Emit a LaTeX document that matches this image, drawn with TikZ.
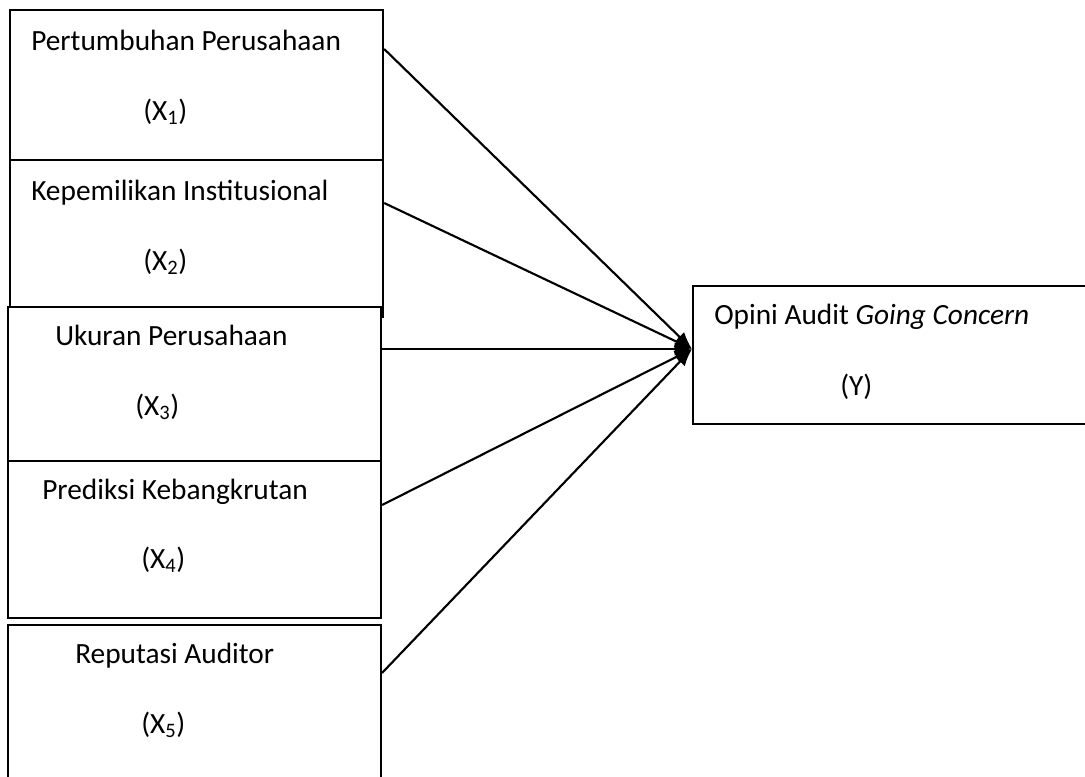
\documentclass[tikz,border=0pt]{standalone}
\usepackage{fontspec}
\setmainfont{Carlito}
\usetikzlibrary{calc,arrows.meta}
\begin{document}
\begin{tikzpicture}[x=0.75pt,y=-0.75pt,
  boxstyle/.style={draw=black,line width=1.5pt,fill=white,inner sep=0pt},
  lbl/.style={anchor=base west,inner sep=0pt,font=\fontsize{22pt}{26pt}\selectfont},
  conn/.style={line width=1.6pt,-{Latex[length=13pt,width=10pt]}}]
\useasboundingbox (0,0) rectangle (1085,776);
\fill[white] (0,0) rectangle (1085,776);
\begin{scope}
\clip (0,0) rectangle (1085,776);
% boxes
\node[boxstyle,minimum width=280pt,minimum height=112.5pt] (b1) at (196.5,85) {};
\node[boxstyle,minimum width=280pt,minimum height=117.75pt] (b2) at (196.5,238.5) {};
\node[boxstyle,minimum width=279.75pt,minimum height=115.5pt] (b3) at (194.5,384) {};
\node[boxstyle,minimum width=279.75pt,minimum height=117.75pt] (b4) at (194.5,539.5) {};
\node[boxstyle,minimum width=279.75pt,minimum height=123.75pt] (b5) at (194.5,707.5) {};
\node[boxstyle,minimum width=450pt,minimum height=103.5pt] (y) at (993,355) {};
\end{scope}
% labels
\node[lbl] (t1a) at (31,50) {Pertumbuhan Perusahaan};
\node[lbl] (t1b) at (143,120) {(X\textsubscript{1})};
\node[lbl] (t2a) at (31,200) {Kepemilikan Institusional};
\node[lbl] (t2b) at (143,270) {(X\textsubscript{2})};
\node[lbl] (t3a) at (55,345) {Ukuran Perusahaan};
\node[lbl] (t3b) at (135,415) {(X\textsubscript{3})};
\node[lbl] (t4a) at (42,499) {Prediksi Kebangkrutan};
\node[lbl] (t4b) at (141,568) {(X\textsubscript{4})};
\node[lbl] (t5a) at (75,663) {Reputasi Auditor};
\node[lbl] (t5b) at (141,733) {(X\textsubscript{5})};
\node[lbl] (tya) at (714,324) {Opini Audit \textit{Going Concern}};
\node[lbl] (tyb) at (840,395) {(Y)};
% connectors
\coordinate (tip) at ($(y.north west)+(0,64)$);
\draw[conn] ($(b1.north east)+(0,40)$) -- (tip);
\draw[conn] ($(b2.north east)+(0,44)$) -- (tip);
\draw[conn] ($(b3.north east)+(0,43)$) -- (tip);
\draw[conn] ($(b4.north east)+(0,45)$) -- (tip);
\draw[conn] ($(b5.north east)+(0,49)$) -- (tip);
\end{tikzpicture}
\end{document}
